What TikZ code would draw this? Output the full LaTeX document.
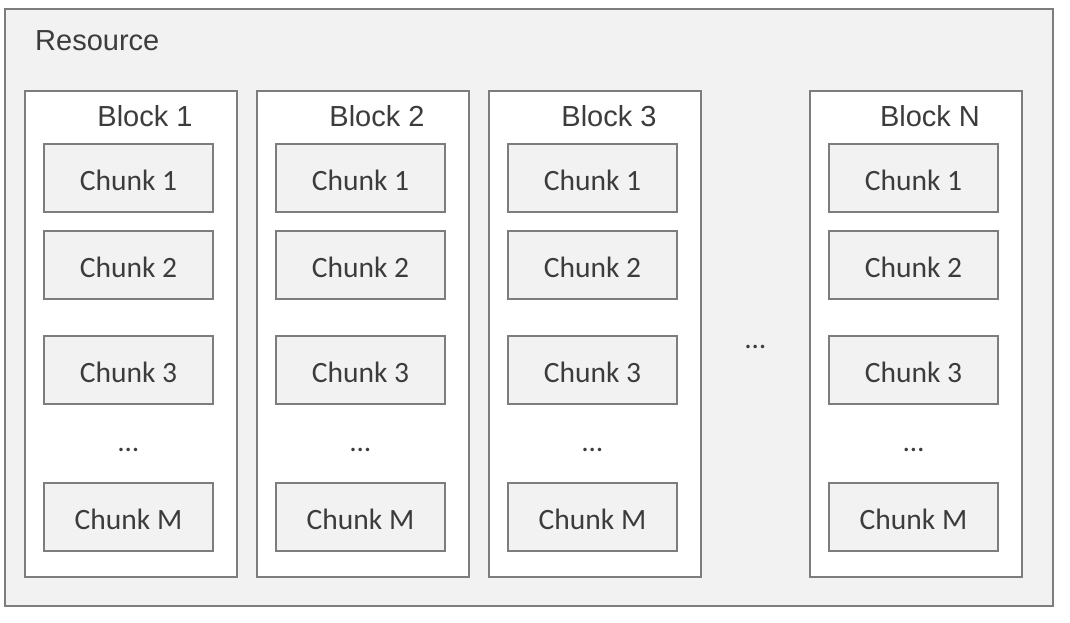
\documentclass[tikz,border=0pt]{standalone}
\usepackage{fontspec}
\setmainfont{Liberation Sans}
\newfontfamily\chunkfont{Carlito}
\usepackage{xcolor}
\usepackage{tikz}
\usetikzlibrary{positioning,calc}
\definecolor{ResFill}{RGB}{242,242,242}
\definecolor{EdgeGray}{RGB}{125,125,125}
\definecolor{TxtGray}{RGB}{60,60,60}

\begin{document}
\begin{tikzpicture}[
  x=1pt,y=-1pt,
  resbox/.style={rectangle,draw=EdgeGray,fill=ResFill,line width=1.6pt,
    minimum width=1048pt,minimum height=597pt,inner sep=0pt},
  blk/.style={rectangle,draw=EdgeGray,fill=white,line width=1.6pt,
    minimum width=212pt,minimum height=486pt,inner sep=0pt},
  chk/.style={rectangle,draw=EdgeGray,fill=ResFill,line width=1.6pt,
    minimum width=169pt,minimum height=68pt,inner sep=0pt,
    text height=25pt,text depth=0pt,
    font=\chunkfont\fontsize{29.5}{34}\selectfont,text=TxtGray},
  ttl/.style={anchor=base,inner sep=0pt,font=\fontsize{29}{34}\selectfont,text=TxtGray},
  dts/.style={inner sep=0pt,font=\chunkfont\fontsize{29}{34}\selectfont,text=TxtGray}
]
\useasboundingbox (0,0) rectangle (1070,622);
\node[resbox] (res) at (529,307.5) {};
\node[ttl,anchor=base west] (rlabel) at (35,50) {Resource};

% block 1
\node[blk] (b1) at (131,334) {};
\node[ttl] (t1) at ($(b1.north)+(14,36)$) {Block 1};
\node[chk] (c11) at ($(b1.north)+(-2.5,88)$) {Chunk 1};
\node[chk,below=17.4pt of c11] (c12) {Chunk 2};
\node[chk,below=35.4pt of c12] (c13) {Chunk 3};
\node[chk,below=77.4pt of c13] (c1m) {Chunk M};
\node[dts] (d1) at ($(c13.south)!0.5!(c1m.north)+(0,6)$) {\dots};

% block 2
\node[blk,right=18.4pt of b1] (b2) {};
\node[ttl] (t2) at ($(b2.north)+(14,36)$) {Block 2};
\node[chk] (c21) at ($(b2.north)+(-2.5,88)$) {Chunk 1};
\node[chk,below=17.4pt of c21] (c22) {Chunk 2};
\node[chk,below=35.4pt of c22] (c23) {Chunk 3};
\node[chk,below=77.4pt of c23] (c2m) {Chunk M};
\node[dts] (d2) at ($(c23.south)!0.5!(c2m.north)+(0,6)$) {\dots};

% block 3
\node[blk,right=18.4pt of b2] (b3) {};
\node[ttl] (t3) at ($(b3.north)+(14,36)$) {Block 3};
\node[chk] (c31) at ($(b3.north)+(-2.5,88)$) {Chunk 1};
\node[chk,below=17.4pt of c31] (c32) {Chunk 2};
\node[chk,below=35.4pt of c32] (c33) {Chunk 3};
\node[chk,below=77.4pt of c33] (c3m) {Chunk M};
\node[dts] (d3) at ($(c33.south)!0.5!(c3m.north)+(0,6)$) {\dots};

% block N
\node[blk,right=107.4pt of b3] (bn) {};
\node[ttl] (tn) at ($(bn.north)+(14,36)$) {Block N};
\node[chk] (cn1) at ($(bn.north)+(-2.5,88)$) {Chunk 1};
\node[chk,below=17.4pt of cn1] (cn2) {Chunk 2};
\node[chk,below=35.4pt of cn2] (cn3) {Chunk 3};
\node[chk,below=77.4pt of cn3] (cnm) {Chunk M};
\node[dts] (dn) at ($(cn3.south)!0.5!(cnm.north)+(0,6)$) {\dots};

\node[dts] (bdots) at ($(b3.east)!0.5!(bn.west)+(0,13)$) {\dots};
\end{tikzpicture}
\end{document}
